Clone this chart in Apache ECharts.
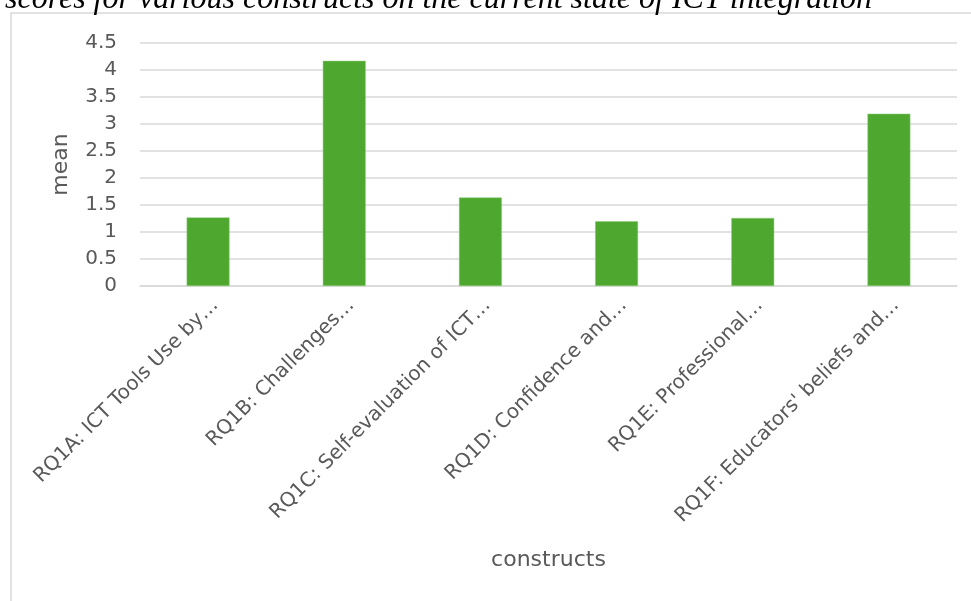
<!DOCTYPE html>
<html><head><meta charset="utf-8">
<script src="https://cdn.jsdelivr.net/npm/echarts@6/dist/echarts.min.js"></script>
<style>html,body{margin:0;padding:0;background:#fff}#c{width:971px;height:601px}</style>
</head><body><div id="c"></div>
<script>
var categories = ["RQ1A: ICT Tools Use by…","RQ1B: Challenges…","RQ1C: Self-evaluation of ICT…","RQ1D: Confidence and…","RQ1E: Professional…","RQ1F: Educators' beliefs and…"];
var meanValues = [1.27, 4.17, 1.64, 1.20, 1.26, 3.19];
var yTicks = [0, 0.5, 1, 1.5, 2, 2.5, 3, 3.5, 4, 4.5];
var titleText = "scores for various constructs on the current state of ICT integration";

var chart = echarts.init(document.getElementById('c'), null, {renderer:'canvas'});
chart.setOption({
  animation:false,
  backgroundColor:'#fff',
  graphic:[
    {type:'rect', shape:{x:11,y:13,width:980,height:600}, style:{fill:'none', stroke:'#d9d9d9', lineWidth:1.5}, z:0},
    {type:'text', x:5, y:-16, style:{text:titleText, font:'italic 32px "Liberation Serif"', fill:'#000'}, z:10}
  ],
  grid:{left:140, right:14, top:43, bottom:315},
  xAxis:{
    type:'category', data:categories,
    name:'constructs', nameLocation:'middle', nameGap:263,
    nameTextStyle:{fontSize:22, color:'#595959', fontFamily:'DejaVu Sans'},
    axisLine:{lineStyle:{color:'#d9d9d9', width:1.5}},
    axisTick:{show:false},
    axisLabel:{rotate:45, interval:0, fontSize:20, color:'#595959', fontFamily:'DejaVu Sans', margin:9, verticalAlign:'top'}
  },
  yAxis:{
    type:'value', min:0, max:4.5, interval:0.5,
    name:'mean', nameLocation:'middle', nameGap:68, nameRotate:90,
    nameTextStyle:{fontSize:22, color:'#595959', fontFamily:'DejaVu Sans'},
    axisLine:{show:false}, axisTick:{show:false},
    splitLine:{lineStyle:{color:'#d9d9d9', width:1.5}},
    axisLabel:{fontSize:20, color:'#595959', fontFamily:'DejaVu Sans', margin:23,
      formatter:function(v){return yTicks.indexOf(v)>=0? String(v):'';}}
  },
  series:[{
    type:'bar', data:meanValues, barWidth:'31.5%',
    itemStyle:{color:'#4ea72e', borderColor:'#8fd07a', borderWidth:0.5}
  }]
});
</script>
</body></html>
